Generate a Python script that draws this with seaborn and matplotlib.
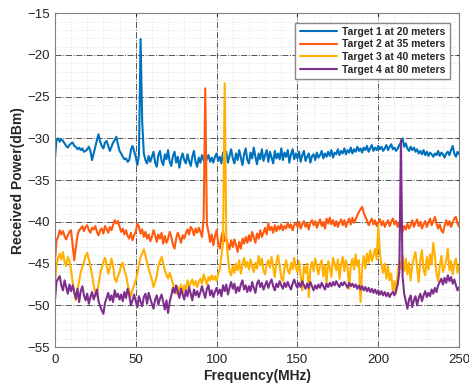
import numpy as np
import pandas as pd
import matplotlib
matplotlib.use("Agg")
import matplotlib.pyplot as plt
from matplotlib.ticker import MultipleLocator
import seaborn as sns

labels = ["Target 1 at 20 meters", "Target 2 at 35 meters",
          "Target 3 at 40 meters", "Target 4 at 80 meters"]
colors = ["#0072BD", "#FF5A0E", "#FFB000", "#7E2F8E"]

target1 = [
 -32.5, -30.2, -30.0, -30.4, -30.1, -30.3, -30.6, -30.9, -31.1, -30.8,
 -30.6, -30.5, -30.9, -31.0, -31.3, -31.1, -31.4, -31.2, -31.6, -31.5,
 -31.3, -31.0, -31.5, -32.6, -31.8, -31.0, -30.2, -29.5, -30.4, -30.9,
 -31.2, -30.5, -30.3, -30.9, -31.5, -31.0, -30.5, -30.2, -29.8, -30.7,
 -31.5, -31.8, -32.2, -32.5, -32.4, -32.8, -32.6, -31.4, -30.9, -31.5,
 -32.2, -33.2, -32.0, -18.1, -28.0, -31.8, -32.6, -33.0, -32.1, -32.8,
 -32.2, -31.6, -32.9, -33.4, -32.0, -31.5, -32.7, -33.2, -31.9, -32.5,
 -31.4, -32.8, -33.3, -32.1, -31.6, -32.9, -32.2, -33.5, -32.4, -31.8,
 -32.6, -33.0, -31.9, -32.7, -33.3, -32.2, -31.5, -32.8, -33.4, -32.3,
 -32.9, -32.0, -32.6, -33.1, -32.4, -32.0, -32.8, -32.3, -32.9, -32.2,
 -31.8, -32.7, -32.2, -33.0, -31.7, -32.5, -31.6, -32.9, -32.1, -31.3,
 -32.4, -33.0, -31.8, -32.6, -31.4, -32.3, -33.2, -31.9, -31.2, -32.6,
 -33.0, -31.7, -32.4, -31.1, -32.2, -33.1, -31.8, -32.5, -31.3, -32.7,
 -32.0, -31.4, -32.8, -31.6, -32.3, -33.0, -31.5, -32.4, -31.8, -32.5,
 -31.2, -32.6, -31.7, -32.2, -31.4, -32.9, -31.9, -31.3, -32.5, -31.8,
 -32.4, -31.6, -32.8, -32.0, -31.5, -32.7, -32.2, -31.8, -32.9, -32.1,
 -31.9, -32.6, -31.7, -32.3, -32.0, -31.5, -32.4, -31.8, -32.2, -31.6,
 -32.1, -31.4, -32.3, -31.7, -31.9, -31.3, -32.0, -31.5, -31.8, -31.2,
 -31.9, -31.4, -31.7, -31.1, -31.8, -31.3, -31.6, -31.0, -31.5, -31.2,
 -31.7, -31.1, -31.4, -30.9, -31.6, -31.2, -30.8, -31.5, -31.1, -31.4,
 -30.9, -31.3, -31.0, -31.5, -31.2, -30.8, -31.4, -31.0, -30.7, -31.3,
 -31.1, -31.5, -31.2, -30.8, -30.5, -30.0, -31.0, -30.6, -31.2, -31.5,
 -31.0, -31.4, -31.1, -31.6, -31.3, -31.8, -31.5, -31.9, -31.4, -32.0,
 -31.6, -32.1, -31.7, -31.9, -32.2, -31.8, -32.0, -31.5, -32.1, -31.7,
 -31.9, -32.3, -31.8, -31.6, -32.0, -31.4, -30.9, -31.8, -32.2, -31.6,
 -31.9]

target2 = [
 -45.0, -42.2, -41.8, -41.0, -41.5, -41.1, -41.7, -42.1, -41.6, -41.2,
 -41.0, -42.8, -44.6, -43.0, -41.6, -41.0, -40.8, -40.5, -41.1, -40.6,
 -40.4, -41.0, -41.3, -40.7, -40.9, -40.5, -41.2, -41.6, -41.0, -40.8,
 -41.4, -40.5, -40.9, -41.3, -40.6, -41.0, -40.4, -39.8, -40.2, -39.9,
 -40.6, -41.2, -40.8, -41.5, -41.0, -41.7, -42.0, -41.3, -42.2, -41.6,
 -41.2, -40.2, -40.6, -41.4, -40.9, -41.8, -41.2, -42.0, -41.5, -42.3,
 -41.8, -41.0, -41.6, -42.4, -41.5, -42.0, -41.3, -42.6, -41.7, -42.5,
 -42.0, -41.2, -41.8, -42.7, -43.2, -42.0, -41.3, -41.8, -42.5, -41.6,
 -42.0, -41.4, -40.9, -41.5, -40.6, -40.9, -41.6, -40.8, -41.3, -40.7,
 -41.2, -41.8, -39.5, -24.0, -40.3, -41.2, -42.4, -41.5, -42.8, -41.7,
 -41.0, -42.6, -43.2, -41.8, -41.1, -42.3, -42.0, -42.7, -43.3, -42.2,
 -43.0, -42.1, -42.8, -43.6, -42.4, -43.2, -42.0, -42.6, -41.8, -42.5,
 -41.6, -42.3, -41.2, -41.9, -42.5, -41.4, -42.0, -41.0, -41.8, -41.3,
 -40.7, -41.5, -40.2, -41.0, -40.6, -41.3, -40.4, -41.1, -40.5, -40.9,
 -40.3, -41.0, -40.5, -40.8, -40.1, -40.7, -40.3, -41.0, -40.4, -40.1,
 -40.6, -40.0, -40.8, -40.3, -39.9, -40.6, -40.2, -40.9, -40.1, -39.8,
 -40.4, -39.9, -40.7, -40.2, -39.7, -40.5, -40.0, -40.8, -39.6, -40.2,
 -39.5, -40.3, -39.8, -40.5, -39.9, -40.6, -40.1, -39.7, -40.4, -39.8,
 -40.6, -40.0, -39.6, -40.3, -39.5, -40.1, -39.7, -39.2, -38.8, -38.5,
 -38.2, -38.9, -39.4, -39.8, -40.4, -40.0, -39.6, -40.3, -39.8, -40.5,
 -40.1, -39.7, -40.4, -39.9, -40.6, -40.2, -39.8, -40.5, -40.0, -39.6,
 -40.3, -39.9, -40.6, -40.1, -40.7, -41.2, -40.5, -40.9, -40.2, -40.8,
 -40.4, -39.8, -40.6, -40.1, -39.7, -40.5, -40.0, -40.8, -40.3, -39.9,
 -40.6, -40.1, -39.6, -40.4, -39.9, -39.4, -40.2, -40.8, -40.3, -41.0,
 -41.3, -40.5, -39.8, -40.4, -39.9, -40.6, -40.1, -39.6, -39.4, -40.2,
 -40.6]

target3 = [
 -47.5, -45.2, -44.3, -43.8, -44.5, -43.6, -44.8, -45.3, -44.2, -44.6,
 -45.8, -47.2, -48.5, -49.4, -48.0, -47.1, -46.0, -45.4, -44.8, -44.1,
 -43.7, -44.5, -45.3, -46.4, -47.6, -48.4, -48.9, -47.5, -46.2, -45.5,
 -44.8, -44.3, -45.1, -46.2, -45.5, -44.4, -45.3, -46.8, -47.2, -46.5,
 -46.0, -45.2, -44.9, -45.8, -46.4, -47.5, -48.3, -48.9, -48.1, -47.6,
 -47.0, -46.2, -45.1, -44.2, -43.8, -43.3, -44.0, -44.9, -45.6, -46.3,
 -46.9, -47.8, -47.2, -46.5, -45.3, -44.7, -44.2, -45.0, -45.8, -46.3,
 -46.8, -46.1, -46.7, -47.4, -47.9, -48.6, -47.8, -48.3, -47.5, -48.6,
 -47.6, -48.2, -47.0, -47.8, -47.3, -46.9, -47.6, -47.1, -47.8, -47.2,
 -46.8, -47.4, -46.3, -46.9, -47.5, -46.6, -47.0, -46.4, -46.9, -46.5,
 -47.1, -46.2, -45.6, -44.0, -42.5, -23.4, -41.8, -44.2, -45.9, -46.4,
 -45.3, -46.1, -45.0, -45.8, -44.6, -46.2, -45.1, -44.3, -45.4, -44.8,
 -45.7, -44.5, -45.3, -46.0, -44.9, -45.6, -44.1, -45.2, -44.4, -45.8,
 -46.3, -45.1, -44.6, -45.5, -44.2, -45.4, -46.6, -44.8, -44.0, -45.3,
 -46.7, -47.1, -45.5, -44.6, -45.8, -46.2, -44.9, -45.7, -44.3, -45.5,
 -46.0, -44.7, -46.4, -48.2, -45.3, -46.1, -45.0, -49.0, -45.6, -44.8,
 -45.9, -44.4, -45.3, -46.3, -45.1, -44.6, -46.5, -45.2, -47.3, -44.7,
 -45.4, -46.6, -44.3, -45.0, -45.8, -44.5, -46.8, -45.1, -44.2, -45.9,
 -44.6, -45.4, -48.0, -45.2, -44.4, -45.7, -43.9, -45.3, -44.6, -49.6,
 -45.5, -44.1, -45.6, -43.8, -44.9, -43.4, -44.7, -44.0, -43.2, -44.5,
 -40.5, -43.8, -45.2, -46.1, -45.0, -46.8, -45.3, -47.0, -46.2, -48.3,
 -47.1, -48.6, -46.0, -44.8, -45.6, -44.1, -45.9, -44.4, -46.3, -44.9,
 -47.0, -45.2, -44.3, -43.6, -45.5, -47.2, -44.6, -43.4, -45.8, -46.4,
 -44.2, -45.7, -43.9, -45.1, -42.5, -44.0, -46.2, -47.1, -45.3, -44.1,
 -46.0, -45.4, -44.6, -43.2, -45.8, -44.7, -46.3, -45.0, -44.4, -46.1,
 -45.2]

target4 = [
 -49.5, -47.2, -46.8, -46.5, -47.6, -48.2, -47.0, -47.8, -48.6, -47.5,
 -48.3, -47.6, -48.4, -49.2, -48.0, -49.6, -48.3, -47.7, -48.8, -49.4,
 -48.6, -49.8, -49.0, -48.4, -49.3, -48.7, -48.1, -49.5, -50.1, -50.6,
 -51.0, -49.7, -49.1, -48.5, -49.4, -48.8, -49.6, -48.2, -49.0, -48.6,
 -49.3, -48.7, -49.5, -48.4, -49.1, -48.0, -48.8, -50.0, -49.4, -48.7,
 -49.5, -50.2, -48.9, -49.6, -50.1, -49.0, -48.6, -49.8, -48.5, -49.2,
 -49.8, -50.4, -49.3, -48.8, -49.9, -49.2, -48.7, -49.6, -50.5, -49.4,
 -50.9, -49.6, -48.8, -47.9, -48.5, -47.6, -48.4, -49.1, -48.0, -48.7,
 -49.3, -48.2, -48.9, -47.8, -48.6, -49.4, -48.1, -48.8, -48.3, -49.0,
 -48.4, -47.7, -48.5, -49.1, -48.0, -47.6, -48.8, -48.2, -49.0, -48.4,
 -47.9, -48.6, -48.1, -48.9, -47.6, -48.3, -47.5, -48.7, -47.9, -47.2,
 -48.0, -47.4, -48.5, -47.8, -48.3, -47.5, -47.0, -48.1, -47.6, -48.4,
 -47.7, -48.3, -47.2, -47.9, -48.5, -47.4, -47.0, -47.8, -47.3, -48.1,
 -47.6, -47.1, -47.9, -47.3, -46.9, -47.7, -48.2, -47.4, -47.8, -47.1,
 -47.6, -48.0, -47.3, -47.8, -47.2, -47.7, -48.1, -47.4, -46.9, -47.5,
 -47.9, -47.3, -47.8, -47.1, -47.6, -48.0, -47.4, -47.9, -47.2, -47.7,
 -48.2, -47.6, -48.0, -47.5, -47.9, -47.3, -47.7, -48.1, -47.4, -47.8,
 -47.3, -47.7, -47.2, -47.6, -47.1, -47.5, -47.8, -47.3, -47.6, -47.2,
 -47.5, -47.9, -47.3, -47.7, -47.4, -47.8, -47.5, -48.0, -47.6, -48.1,
 -47.7, -48.2, -47.8, -48.3, -47.9, -48.4, -48.0, -48.5, -48.1, -48.6,
 -48.2, -48.7, -48.3, -48.8, -48.4, -48.9, -48.5, -49.0, -48.6, -48.4,
 -48.8, -48.2, -47.5, -46.0, -30.2, -46.5, -48.6, -49.5, -50.4, -49.3,
 -48.8, -50.2, -49.4, -48.9, -50.0, -49.1, -48.6, -49.5, -48.8, -48.3,
 -49.0, -48.5, -48.9, -48.1, -48.6, -47.9, -48.4, -47.6, -47.2, -46.8,
 -47.5, -46.7, -47.3, -46.4, -47.1, -46.6, -47.4, -46.9, -47.6, -48.2,
 -47.8]

series = [target1, target2, target3, target4]
frames = []
for lab, vals in zip(labels, series):
    frames.append(pd.DataFrame({"freq": np.arange(len(vals)), "power": vals, "target": lab}))
df = pd.concat(frames, ignore_index=True)

sns.set_style("white")
plt.rcParams["font.family"] = ["Liberation Sans", "DejaVu Sans"]

fig = plt.figure(figsize=(4.69, 3.87), dpi=100)
ax = fig.add_axes([0.117, 0.103, 0.862, 0.863])

sns.lineplot(data=df, x="freq", y="power", hue="target", hue_order=labels,
             palette=colors, estimator=None, linewidth=1.5, ax=ax, legend=True)

ax.set_xlim(0, 250)
ax.set_ylim(-55, -15)
ax.xaxis.set_major_locator(MultipleLocator(50))
ax.yaxis.set_major_locator(MultipleLocator(5))
ax.xaxis.set_minor_locator(MultipleLocator(10))
ax.yaxis.set_minor_locator(MultipleLocator(1))
ax.grid(which="minor", color="#e0e0e0", linestyle=":", linewidth=0.6)
ax.grid(which="major", color="#555555", linestyle="-.", linewidth=0.7)
ax.set_axisbelow(True)
ax.tick_params(which="major", direction="in", length=2, labelsize=9.5, colors="#222222",
               top=True, right=True)
ax.tick_params(axis="x", which="major", pad=5)
ax.tick_params(which="minor", length=0)
for s in ax.spines.values():
    s.set_color("#808080")
    s.set_linewidth(0.8)

ax.set_xlabel("Frequency(MHz)", fontsize=10, fontweight="bold", labelpad=2)
ax.set_ylabel("Received Power(dBm)", fontsize=10, fontweight="bold", labelpad=2)

leg = ax.legend(loc="upper right", fontsize=7.5, frameon=True, fancybox=False,
                framealpha=1, edgecolor="#888888", handlelength=3.6,
                borderaxespad=0.9, labelspacing=0.25, borderpad=0.4, handletextpad=0.5)
for t in leg.get_texts():
    t.set_fontweight("bold")
for line in leg.get_lines():
    line.set_linewidth(1.5)

fig.savefig("out.png", dpi=100)
